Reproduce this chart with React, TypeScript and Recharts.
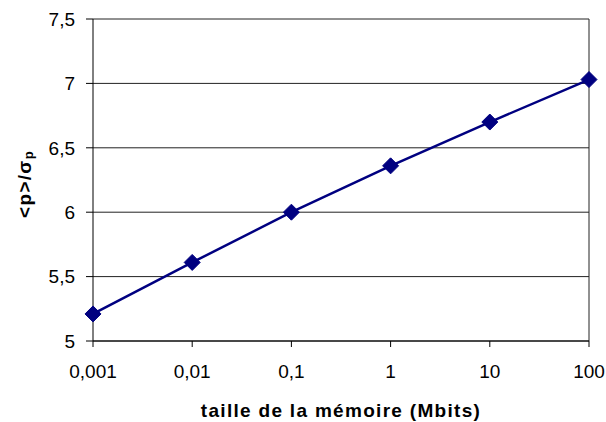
import React from 'react';
import { LineChart, Line, XAxis, YAxis, CartesianGrid, ReferenceLine, Label } from 'recharts';

const categories = ['0,001', '0,01', '0,1', '1', '10', '100'];
const ratioValues = [5.21, 5.61, 6.0, 6.36, 6.7, 7.03];
const yTicks = [5, 5.5, 6, 6.5, 7, 7.5];

const data = categories.map((c, i) => ({ name: c, value: ratioValues[i] }));

const FONT = "Arial, 'Liberation Sans', sans-serif";
const NAVY = '#000080';

const Diamond = (props: any) => {
  const { cx, cy } = props;
  if (cx == null || cy == null) return null;
  const r = 8;
  return (
    <polygon
      points={`${cx},${cy - r} ${cx + r},${cy} ${cx},${cy + r} ${cx - r},${cy}`}
      fill={NAVY}
      stroke={NAVY}
      strokeWidth={1}
    />
  );
};

const YTitle = (props: any) => {
  const vb = props.viewBox || {};
  const cx = vb.x + 31;
  const cy = vb.y + vb.height / 2 + 4;
  return (
    <text
      x={cx}
      y={cy}
      transform={`rotate(-90, ${cx}, ${cy})`}
      textAnchor="middle"
      fontFamily={FONT}
      fontWeight="bold"
      fontSize={19}
      letterSpacing={1.3}
      fill="#000"
    >
      <tspan>{'<p>/σ'}</tspan>
      <tspan fontSize={13} dy={2}>p</tspan>
    </text>
  );
};

export default function App() {
  return (
    <div style={{ position: 'absolute', left: 0, top: 0, background: '#fff' }}>
      <LineChart
        width={606}
        height={422}
        data={data}
        margin={{ top: 19, right: 17, bottom: 0, left: 0 }}
      >
        <CartesianGrid vertical={false} stroke="#222" strokeWidth={1} />
        <XAxis
          dataKey="name"
          type="category"
          scale="point"
          padding={{ left: 0, right: 0 }}
          height={81}
          axisLine={{ stroke: '#000', strokeWidth: 1 }}
          tickLine={{ stroke: '#000', strokeWidth: 1 }}
          tickSize={6}
          tickMargin={18}
          tick={{ fill: '#000', fontSize: 19, fontFamily: FONT }}
          interval={0}
        >
          <Label
            value="taille de la mémoire (Mbits)"
            position="insideBottom"
            offset={5}
            style={{ fontFamily: FONT, fontWeight: 'bold', fontSize: 19, letterSpacing: 1.3, fill: '#000' }}
          />
        </XAxis>
        <YAxis
          type="number"
          domain={[5, 7.5]}
          ticks={yTicks}
          width={93}
          axisLine={{ stroke: '#000', strokeWidth: 1 }}
          tickLine={{ stroke: '#000', strokeWidth: 1 }}
          tickSize={7}
          tickMargin={11}
          tick={{ fill: '#000', fontSize: 19, fontFamily: FONT }}
          tickFormatter={(v: number) => String(v).replace('.', ',')}
          interval={0}
        >
          <Label content={<YTitle />} />
        </YAxis>
        <ReferenceLine x="100" stroke="#222" strokeWidth={1} ifOverflow="visible" />
        <Line
          type="linear"
          dataKey="value"
          stroke={NAVY}
          strokeWidth={2.5}
          dot={<Diamond />}
          activeDot={false}
          isAnimationActive={false}
        />
      </LineChart>
    </div>
  );
}
